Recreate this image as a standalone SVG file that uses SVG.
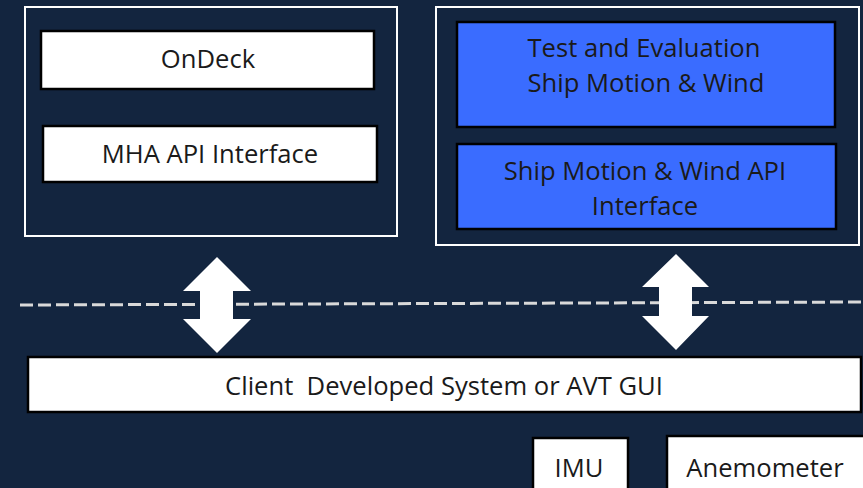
<svg xmlns="http://www.w3.org/2000/svg" width="863" height="488" viewBox="0 0 863 488">
<style>
.frame{fill:none;stroke:#ffffff;stroke-width:2}
.wbox{fill:#ffffff;stroke:#000000;stroke-width:2.5}
.bbox{fill:#3a6cff;stroke:#000000;stroke-width:2.5}
.t{font-family:"Open Sans","Liberation Sans",Arial,sans-serif;font-size:25.6px;fill:#1a1a1a;text-anchor:middle}
.arrow{fill:#ffffff}
</style>
<rect x="0" y="0" width="863" height="488" fill="#13253f"/>
<g id="left-frame"><rect class="frame" x="25" y="7" width="372" height="229"/></g>
<g id="right-frame"><rect class="frame" x="436" y="7" width="423" height="238"/></g>
<g id="ondeck"><rect class="wbox" x="41" y="31" width="333" height="58"/><text class="t" x="208" y="68">OnDeck</text></g>
<g id="mha-api"><rect class="wbox" x="43" y="126" width="334" height="56"/><text class="t" x="210" y="163">MHA API Interface</text></g>
<g id="test-eval"><rect class="bbox" x="457" y="22" width="378" height="105"/><text class="t" x="644" y="57">Test and Evaluation</text><text class="t" x="646" y="92">Ship Motion &amp; Wind</text></g>
<g id="ship-api"><rect class="bbox" x="457" y="144" width="379" height="85"/><text class="t" x="645" y="180">Ship Motion &amp; Wind API</text><text class="t" x="645" y="215">Interface</text></g>
<g id="client"><rect class="wbox" x="28" y="357" width="833" height="55"/><text class="t" x="444" y="395" xml:space="preserve" style="white-space:pre">Client  Developed System or AVT GUI</text></g>
<g id="imu"><rect class="wbox" x="533" y="438" width="95" height="60"/><text class="t" x="579" y="477">IMU</text></g>
<g id="anemometer"><rect class="wbox" x="667" y="436" width="200" height="62"/><text class="t" x="765" y="477">Anemometer</text></g>
<g id="connectors">
<line x1="20" y1="305" x2="863" y2="302" stroke="#d9d9d9" stroke-width="3" stroke-dasharray="13 5"/>
<polygon class="arrow" points="217,257 251,291 233,291 233,319 251,319 217,353 183,319 200,319 200,291 183,291"/>
<polygon class="arrow" points="676,254 709,287 692,287 692,316 709,316 676,350 642,316 659,316 659,287 642,287"/>
</g>
</svg>
